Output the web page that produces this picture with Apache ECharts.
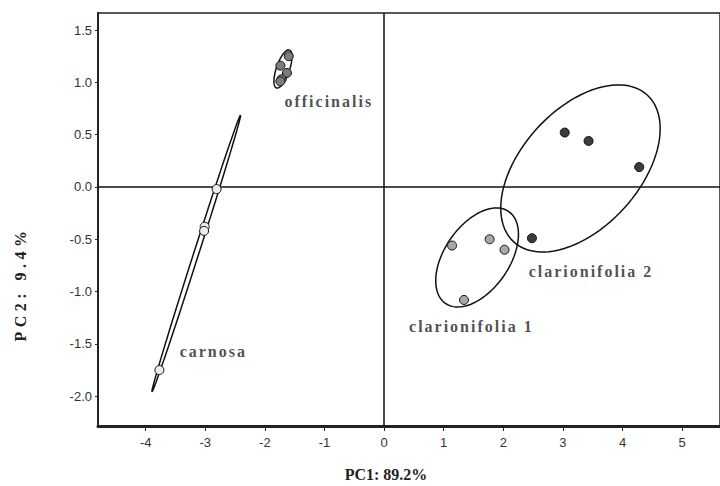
<!DOCTYPE html>
<html>
<head>
<meta charset="utf-8">
<script src="https://cdn.jsdelivr.net/npm/echarts@6/dist/echarts.min.js"></script>
<style>html,body{margin:0;padding:0;background:#fff;}#c{width:720px;height:486px;}</style>
</head>
<body>
<div id="c"></div>
<script>
// ---- data ----
const xTicks = [-4, -3, -2, -1, 0, 1, 2, 3, 4, 5];
const yTicks = [-2.0, -1.5, -1.0, -0.5, 0.0, 0.5, 1.0, 1.5];
const officinalis = [[-1.60, 1.25], [-1.74, 1.16], [-1.63, 1.09], [-1.72, 1.03], [-1.74, 1.01]];
const carnosa = [[-2.81, -0.02], [-3.01, -0.38], [-3.02, -0.42], [-3.77, -1.75]];
const clarionifolia1 = [[1.14, -0.56], [1.77, -0.50], [2.02, -0.60], [1.34, -1.08]];
const clarionifolia2 = [[2.48, -0.49], [3.03, 0.52], [3.43, 0.44], [4.28, 0.19]];
// group ellipses: centre, major semi-axis vector, minor semi-axis vector (data units)
const ellipseCentres = [[-1.697, 1.128], [-3.152, -0.636], [1.56, -0.674], [3.294, 0.177]];
const ellipseMajor = [[0.109, 0.182], [0.744, 1.324], [0.531, 0.439], [1.120, 0.702]];
const ellipseMinor = [[-0.105, 0.02], [-0.040, 0.0073], [-0.447, 0.177], [-0.731, 0.381]];
const groupLabels = ['officinalis', 'carnosa', 'clarionifolia 1', 'clarionifolia 2'];
const labelAnchors = [[-1.672, 0.815], [-3.43, -1.575], [0.418, -1.338], [2.425, -0.81]];
const axisTitles = ['PC1: 89.2%', 'PC2: 9.4%'];

function ellipsePath(c, u, v) {
  const pts = [];
  const n = 96;
  for (let i = 0; i <= n; i++) {
    const t = 2 * Math.PI * i / n;
    pts.push([c[0] + u[0] * Math.cos(t) + v[0] * Math.sin(t), c[1] + u[1] * Math.cos(t) + v[1] * Math.sin(t)]);
  }
  return pts;
}

const series = [];
// reference lines at 0
series.push({
  type: 'line', data: [], silent: true,
  markLine: {
    silent: true, symbol: 'none', animation: false,
    label: {show: false},
    lineStyle: {color: '#111', width: 1.5, type: 'solid'},
    data: [{xAxis: 0}, {yAxis: 0}]
  }
});
ellipseCentres.forEach((c, i) => {
  series.push({
    type: 'line', data: ellipsePath(c, ellipseMajor[i], ellipseMinor[i]),
    showSymbol: false, symbol: 'none', smooth: false, silent: true,
    lineStyle: {color: '#111', width: 1.5}, z: 3
  });
});
const groups = [
  [officinalis, '#7c7c7c'],
  [carnosa, '#ececec'],
  [clarionifolia1, '#a8a8a8'],
  [clarionifolia2, '#3c3c3c']
];
groups.forEach(g => {
  series.push({
    type: 'scatter', data: g[0], symbol: 'circle', symbolSize: 9, z: 5,
    itemStyle: {color: g[1], borderColor: '#111', borderWidth: 1, opacity: 1}
  });
});
series.push({
  type: 'scatter', symbolSize: 0, z: 6, silent: true,
  data: labelAnchors.map((p, i) => ({value: p, name: groupLabels[i]})),
  label: {
    show: true, position: 'right', distance: 0,
    formatter: p => p.name,
    fontSize: 16,
    fontFamily: 'Liberation Serif', fontWeight: 'bold', color: '#222'
  }
});

const chart = echarts.init(document.getElementById('c'), null, {renderer: 'svg'});
chart.setOption({
  animation: false,
  backgroundColor: '#fff',
  grid: {left: 98, top: 13, right: -2, bottom: 60, show: true, borderColor: '#222', borderWidth: 1.5},
  xAxis: {
    type: 'value', min: -4.8, max: 5.635,
    splitLine: {show: false},
    axisLine: {show: true, onZero: false, lineStyle: {color: '#222', width: 3}},
    axisTick: {show: true, length: 5, customValues: xTicks, lineStyle: {color: '#222', width: 1}},
    axisLabel: {customValues: xTicks, margin: 10, fontSize: 13, fontFamily: 'Liberation Sans', color: '#333'}
  },
  yAxis: {
    type: 'value', min: -2.285, max: 1.663,
    splitLine: {show: false},
    axisLine: {show: true, onZero: false, lineStyle: {color: '#222', width: 2}},
    axisTick: {show: true, length: 3, customValues: yTicks, lineStyle: {color: '#222', width: 1}},
    axisLabel: {customValues: yTicks, margin: 6, fontSize: 13, fontFamily: 'Liberation Sans', color: '#333',
      formatter: v => v.toFixed(1)}
  },
  graphic: [
    {type: 'text', x: 386, y: 474, style: {text: axisTitles[0], font: 'bold 16px "Liberation Serif"', fill: '#222', align: 'center', verticalAlign: 'middle'}},
    {type: 'text', x: 20, y: 284, rotation: Math.PI / 2, style: {text: axisTitles[1], font: 'bold 16px "Liberation Serif"', fill: '#222', align: 'center', verticalAlign: 'middle'}}
  ],
  series: series
});

// letter spacing of the group labels and the vertical axis title, as in the reference
function spaceText() {
  document.querySelectorAll('#c svg text').forEach(t => {
    const s = t.textContent;
    if (groupLabels.indexOf(s) >= 0) t.style.letterSpacing = '2px';
    else if (s === axisTitles[1]) t.style.letterSpacing = '4.5px';
  });
}
spaceText();
chart.on('finished', spaceText);
</script>
</body>
</html>
